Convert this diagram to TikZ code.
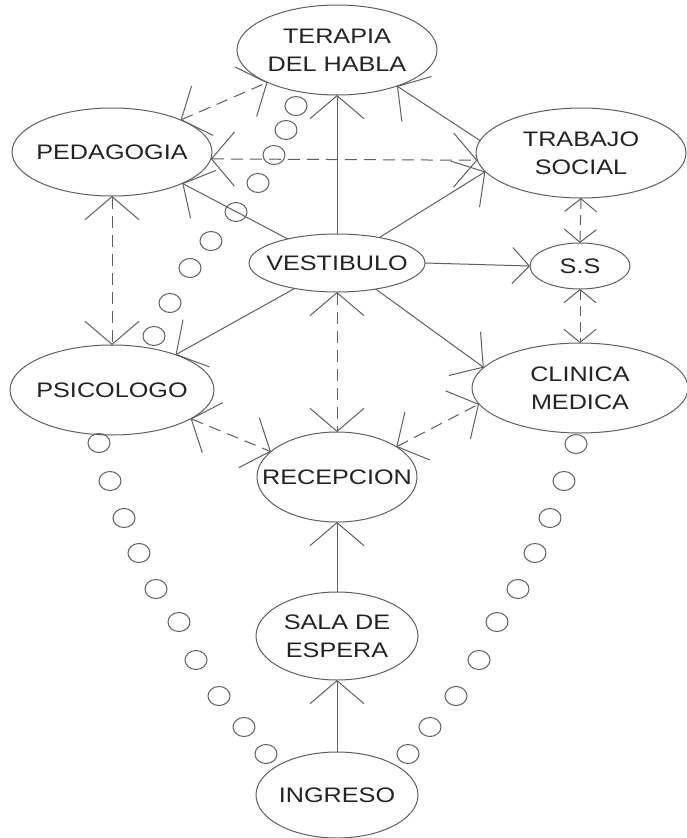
\documentclass[tikz,border=0pt]{standalone}
\usepackage{fontspec}
\setmainfont[FakeStretch=1.2]{Liberation Sans}
\usetikzlibrary{shapes.geometric,arrows.meta}
\definecolor{linec}{RGB}{95,95,95}
\definecolor{txtc}{RGB}{35,35,35}
\begin{document}
\begin{tikzpicture}[x=1pt,y=-1pt,
  >={Straight Barb[length=23pt,width=54pt]},
  bub/.style={ellipse,draw=linec,line width=1pt,inner sep=0pt,outer sep=0pt},
  lbl/.style={text=txtc,font=\fontsize{21}{28}\selectfont,align=center},
  conn/.style={draw=linec,line width=1pt,->},
  mconn/.style={draw=linec,line width=1pt,-{Straight Barb[length=17pt,width=36pt]}},
  dconn/.style={draw=linec,line width=1pt,<->,dash pattern=on 12pt off 7pt},
  sdconn/.style={draw=linec,line width=1pt,dash pattern=on 10pt off 6pt,
    {Straight Barb[length=13pt,width=32pt]}-{Straight Barb[length=13pt,width=32pt]}},
  dot/.style={draw=linec,line width=1pt}]
\fill[white] (0,0) rectangle (686,838);
\useasboundingbox (0,0) rectangle (686,838);
% nodes
\node[bub,minimum width=200pt,minimum height=90pt,label={[lbl]center:{TERAPIA\\DEL HABLA}}] (th) at (337,50) {};
\node[bub,minimum width=200pt,minimum height=88pt,label={[lbl]center:PEDAGOGIA}] (pe) at (112,152) {};
\node[bub,minimum width=210pt,minimum height=90pt,label={[lbl]center:{TRABAJO\\SOCIAL}}] (ts) at (581,153) {};
\node[bub,minimum width=176pt,minimum height=58pt,label={[lbl]center:VESTIBULO}] (v) at (337,263) {};
\node[bub,minimum width=100pt,minimum height=46pt,label={[lbl]center:S.S}] (ss) at (580,266) {};
\node[bub,minimum width=204pt,minimum height=90pt,label={[lbl]center:PSICOLOGO}] (ps) at (112,390) {};
\node[bub,minimum width=216pt,minimum height=90pt,label={[lbl]center:{CLINICA\\MEDICA}}] (cm) at (580,388) {};
\node[bub,minimum width=160pt,minimum height=90pt,label={[lbl]center:RECEPCION}] (r) at (337,477) {};
\node[bub,minimum width=162pt,minimum height=88pt,label={[lbl]center:{SALA DE\\ESPERA}}] (sa) at (337,636) {};
\node[bub,minimum width=162pt,minimum height=86pt,label={[lbl]center:INGRESO}] (in) at (337,795) {};
% solid connectors
\draw[conn] (v.north) -- (th.south);
\draw[conn] (ts.173.5) -- (th.-31.5);
\draw[conn] (v.31) -- (ts.-169);
\draw[mconn] (v.east) -- (ss.west);
\draw[conn] (v.154) -- (pe.-24.6);
\draw[conn] (v.211) -- (ps.29);
\draw[conn] (v.-34) -- (cm.168);
\draw[conn] (sa.north) -- (r.south);
\draw[conn] (in.north) -- (sa.south);
% dashed connectors
\draw[dconn] (v.south) -- (r.north);
\draw[dconn] (pe.25) -- (th.205);
\draw[dconn] (pe.-4.6) -- (ts.184.4);
\draw[dconn] (pe.south) -- (ps.north);
\draw[sdconn] (ts.south) -- (ss.north);
\draw[sdconn] (ss.south) -- (cm.north);
\draw[dconn] (ps.-20.4) -- (r.159);
\draw[dconn] (r.27.3) -- (cm.189.7);
% dotted chains of small circles
\foreach \x/\y in {296/106,286/130,274/155,258/183,236/212,211/241,190/268,170/303,154/336,
  99/443,110/481,124/518,139/553,156/589,179/622,196/660,219/696,244/727,266/754,
  576/444,564/481,550/518,535/553,518/589,497/622,479/660,456/696,430/727,408/754}
  \draw[dot] (\x,\y) ellipse [x radius=11,y radius=9.5];
\end{tikzpicture}
\end{document}
